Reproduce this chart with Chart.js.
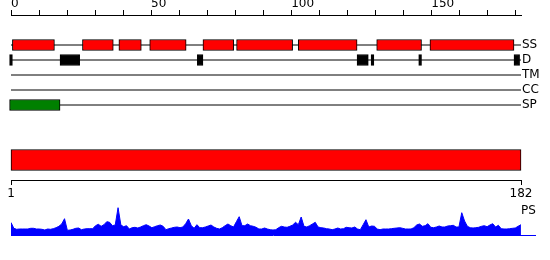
<!DOCTYPE html>
<html lang="en">
<head>
<meta charset="UTF-8">
<title>Protein feature map</title>
<script src="https://cdn.jsdelivr.net/npm/chart.js"></script>
<style>
  body { margin: 0; background: #fff; }
  #wrap { position: relative; width: 550px; height: 260px; }
  #wrap canvas { position: absolute; left: 0; }
  #psLabel { position: absolute; left: 521px; top: 204px; font: 12px/12px "DejaVu Sans"; color: #000; }
</style>
</head>
<body>
<div id="wrap">
  <canvas id="tracks" width="550" height="120" style="top:0"></canvas>
  <canvas id="protein" width="550" height="62" style="top:140px"></canvas>
  <canvas id="psPlot" width="550" height="36" style="top:200px"></canvas>
  <span id="psLabel">PS</span>
</div>

<script>
// sequence length and track names
var seqLength = 182;
var trackNames = ['SS', 'D', 'TM', 'CC', 'SP'];
var topTicks = [0, 10, 20, 30, 40, 50, 60, 70, 80, 90, 100, 110, 120, 130, 140, 150, 160, 170, 180];
var bottomTicks = [1, 182];

// feature regions, residue start / end
var ssRegions = [[1, 15], [26, 36], [39, 46], [50, 62], [69, 79], [81, 100], [103, 123], [131, 146], [150, 179]];
var disorderRegions = [[0, 0], [18, 24], [67, 68], [124, 127], [129, 129], [146, 146], [180, 181]];
var tmRegions = [];
var ccRegions = [];
var spRegions = [[0, 17]];

// PS profile, one value per residue
var psScores = [
  12.5, 6.7, 5.7, 6, 6, 6, 6, 6.7, 6.7, 6,
  6, 5.7, 5, 6, 5.7, 6.3, 7.3, 8.7, 11, 16.3,
  4.7, 5, 5.7, 6.7, 7, 5.3, 6, 6.3, 6.3, 6.3,
  9.3, 10.7, 8.7, 10.3, 13.3, 12.7, 9.3, 10, 27.3, 10,
  8.3, 9.3, 6, 7.3, 7.7, 7, 8, 9.3, 10.3, 9,
  7.3, 8.3, 9.3, 10, 8.7, 5.3, 6.3, 7, 7.7, 8,
  7.3, 8, 11.3, 16, 9.3, 6.7, 10.3, 7.3, 7.3, 8,
  9, 10, 8, 6.7, 6, 7.3, 9.3, 11, 9.3, 8,
  13.3, 18.3, 9.3, 9.3, 11, 9.3, 8.7, 7.7, 6, 6,
  7, 6, 5.3, 5, 5.3, 7.3, 8.7, 8, 7.7, 8.7,
  10, 12.7, 10.3, 18, 8.7, 8, 9.3, 11, 12.7, 8,
  7.3, 7, 6.3, 6, 5.3, 6, 7, 6, 6.3, 7.7,
  7.3, 7, 8, 6, 5.3, 10.3, 15.3, 8, 9, 8.7,
  6, 5.3, 6, 6, 6, 6.3, 6.7, 7, 7.3, 6.7,
  6, 6, 6, 7.3, 10, 11, 8.7, 9.3, 11.3, 7.7,
  7.3, 8, 9, 8, 8, 9, 9.3, 9.7, 8, 8,
  22.3, 14, 8.7, 7.3, 7, 7.3, 7.7, 8.7, 9.3, 8.3,
  10, 11.3, 8, 9.7, 6.3, 6, 6, 6.3, 6.7, 7,
  8.7, 10.3
];

Chart.defaults.font.family = 'DejaVu Sans';
Chart.defaults.font.size = 12;
Chart.defaults.color = '#000';

function toBars(regions, row) {
  return regions.map(function(r) {
    return { x: [r[0] - 0.5, r[1] + 0.5], y: row };
  });
}

function barSet(regions, row, color) {
  return {
    type: 'bar',
    indexAxis: 'y',
    data: toBars(regions, row),
    backgroundColor: color,
    borderColor: '#000',
    borderWidth: 1,
    borderSkipped: false,
    barThickness: 11,
    grouped: false,
    clip: false,
    order: 1
  };
}

// baseline for every track
var trackLines = trackNames.map(function(name, i) {
  return {
    type: 'line',
    data: [{ x: 0, y: i }, { x: seqLength, y: i }],
    borderColor: '#000',
    borderWidth: 1,
    pointRadius: 0,
    order: 2
  };
});

var noPlugins = { legend: { display: false }, tooltip: { enabled: false } };

new Chart(document.getElementById('tracks'), {
  type: 'bar',
  data: {
    datasets: trackLines.concat([
      barSet(ssRegions, 0, '#ff0000'),
      barSet(disorderRegions, 1, '#000000'),
      barSet(tmRegions, 2, '#000000'),
      barSet(ccRegions, 3, '#000000'),
      barSet(spRegions, 4, '#008000')
    ])
  },
  options: {
    responsive: false,
    animation: false,
    layout: { padding: { left: 11, right: 0, top: 0, bottom: 0 } },
    plugins: noPlugins,
    scales: {
      x: {
        type: 'linear',
        position: 'top',
        offset: false,
        min: 0,
        max: seqLength,
        afterBuildTicks: function(s) { s.ticks = topTicks.map(function(v) { return { value: v }; }); },
        afterFit: function(s) { s.height = 15; s.paddingLeft = 0; s.paddingRight = 0; },
        grid: { drawOnChartArea: false, offset: false, tickLength: 5, color: '#000' },
        border: { color: '#000' },
        ticks: {
          autoSkip: false, maxRotation: 0, minRotation: 0, align: 'start', padding: -1,
          callback: function(v) { return v % 50 === 0 ? v : ''; }
        }
      },
      y: {
        type: 'linear',
        position: 'right',
        offset: false,
        reverse: true,
        min: -2,
        max: 5,
        afterBuildTicks: function(s) { s.ticks = trackNames.map(function(n, i) { return { value: i }; }); },
        afterFit: function(s) { s.width = 29; s.paddingTop = 0; s.paddingBottom = 0; },
        grid: { display: false, drawTicks: false, offset: false },
        border: { display: false },
        ticks: { padding: 1, callback: function(v) { return trackNames[v]; } }
      }
    }
  }
});

new Chart(document.getElementById('protein'), {
  type: 'bar',
  data: {
    labels: ['protein'],
    datasets: [{
      data: [[1, seqLength]],
      backgroundColor: '#ff0000',
      borderColor: '#000',
      borderWidth: 1,
      borderSkipped: false,
      barThickness: 21,
      clip: false
    }]
  },
  options: {
    indexAxis: 'y',
    responsive: false,
    animation: false,
    layout: { padding: { left: 11, right: 29, top: 0, bottom: 0 } },
    plugins: noPlugins,
    scales: {
      x: {
        type: 'linear',
        min: 1,
        max: seqLength,
        afterBuildTicks: function(s) { s.ticks = bottomTicks.map(function(v) { return { value: v }; }); },
        afterFit: function(s) { s.height = 22; },
        grid: { drawOnChartArea: false, tickLength: 5, color: '#000' },
        border: { color: '#000' },
        ticks: { autoSkip: false, maxRotation: 0, minRotation: 0, padding: 2 }
      },
      y: { display: false }
    }
  }
});

new Chart(document.getElementById('psPlot'), {
  type: 'line',
  data: {
    datasets: [{
      data: psScores.map(function(v, i) { return { x: i + 1, y: v }; }),
      fill: 'origin',
      backgroundColor: '#0000ff',
      borderColor: '#0000ff',
      borderWidth: 1,
      pointRadius: 0,
      tension: 0
    }]
  },
  options: {
    responsive: false,
    animation: false,
    layout: { padding: { left: 11, right: 15, top: 0, bottom: 1 } },
    plugins: noPlugins,
    scales: {
      x: {
        type: 'linear',
        min: 1,
        max: 187,
        afterFit: function(s) { s.height = 0; },
        grid: { display: false },
        ticks: { display: false },
        border: { display: true, color: '#0000ff' }
      },
      y: { min: 0, max: 35, display: false }
    }
  }
});
</script>
</body>
</html>
